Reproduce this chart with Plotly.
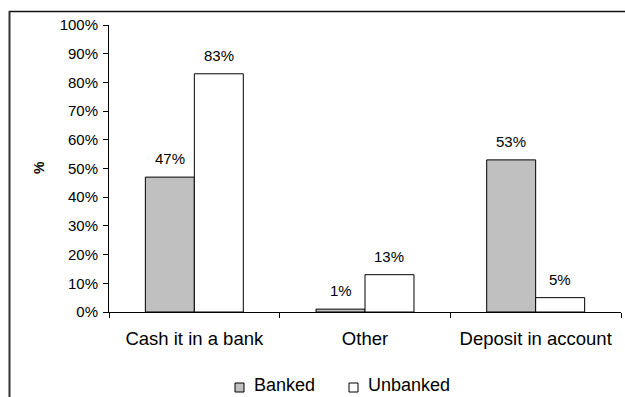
import plotly.graph_objects as go

# Data
categories = ["Cash it in a bank", "Other", "Deposit in account"]
banked = [47, 1, 53]
unbanked = [83, 13, 5]
y_ticks = list(range(0, 101, 10))
series_names = ["Banked", "Unbanked"]
series_colors = ["#C0C0C0", "#FFFFFF"]

# Canvas and plot-area geometry (pixels)
W, H = 625, 397
L, R, T, B = 109, 4, 25, 85
PW = W - L - R
PH = H - T - B
BARGAP = 0.426
FONT = "Liberation Sans, Arial, sans-serif"


def px_x(x):
    return (x - L) / PW


def px_y(y):
    return (H - B - y) / PH


fig = go.Figure()
for name, vals, color in zip(series_names, [banked, unbanked], series_colors):
    fig.add_trace(go.Bar(
        x=categories, y=vals, name=name,
        marker=dict(color=color, line=dict(color="#000000", width=1)),
        showlegend=False, hoverinfo="x+y+name",
    ))

# Value labels above each bar
bar_px = PW / len(categories) * (1 - BARGAP) / 2
annotations = []
for vals, sign in [(banked, -1), (unbanked, 1)]:
    for c, v in zip(categories, vals):
        annotations.append(dict(
            x=c, y=v, xref="x", yref="y", text=f"{v}%",
            xshift=sign * bar_px / 2, yshift=8, yanchor="bottom",
            showarrow=False, font=dict(family=FONT, size=15, color="#000"),
        ))

# Y-axis title
annotations.append(dict(
    x=px_x(39), y=px_y(168), xref="paper", yref="paper", text="<b>%</b>",
    textangle=-90, showarrow=False, xanchor="center", yanchor="middle",
    font=dict(family=FONT, size=14, color="#000"),
))

# Legend (drawn manually)
shapes = []
legend_items = [(235, 252), (349, 366)]
for (sx, tx), name, color in zip(legend_items, series_names, series_colors):
    shapes.append(dict(
        type="rect", xref="paper", yref="paper",
        x0=px_x(sx), x1=px_x(sx + 9), y0=px_y(392), y1=px_y(383),
        fillcolor=color, line=dict(color="#000", width=1),
    ))
    annotations.append(dict(
        x=px_x(tx), y=px_y(385), xref="paper", yref="paper", text=name,
        xanchor="left", yanchor="middle", showarrow=False,
        font=dict(family=FONT, size=18, color="#000"),
    ))

# Outer chart frame (top and left edges)
shapes.append(dict(type="line", xref="paper", yref="paper",
                   x0=px_x(9), x1=px_x(640), y0=px_y(11.5), y1=px_y(11.5),
                   line=dict(color="#111", width=1.5)))
shapes.append(dict(type="line", xref="paper", yref="paper",
                   x0=px_x(9.5), x1=px_x(9.5), y0=px_y(11), y1=px_y(410),
                   line=dict(color="#333", width=2)))

fig.update_layout(
    width=W, height=H,
    margin=dict(l=L, r=R, t=T, b=B),
    paper_bgcolor="white", plot_bgcolor="white",
    barmode="group", bargap=BARGAP, bargroupgap=0,
    font=dict(family=FONT, color="#000"),
    annotations=annotations, shapes=shapes,
    xaxis=dict(
        showline=True, linecolor="#000", linewidth=1,
        ticks="outside", tickson="boundaries", ticklen=5, tickcolor="#000",
        tickfont=dict(size=18.5, family=FONT, color="#000"),
        ticklabelstandoff=10,
        showgrid=False, fixedrange=True,
    ),
    yaxis=dict(
        range=[0, 100], tickvals=y_ticks, ticktext=[f"{v}%" for v in y_ticks],
        showline=True, linecolor="#000", linewidth=1,
        ticks="outside", ticklen=5, tickcolor="#000",
        tickfont=dict(size=15, family=FONT, color="#000"),
        ticklabelstandoff=2,
        showgrid=False, zeroline=False, fixedrange=True,
    ),
)

fig.write_html("out.html")
